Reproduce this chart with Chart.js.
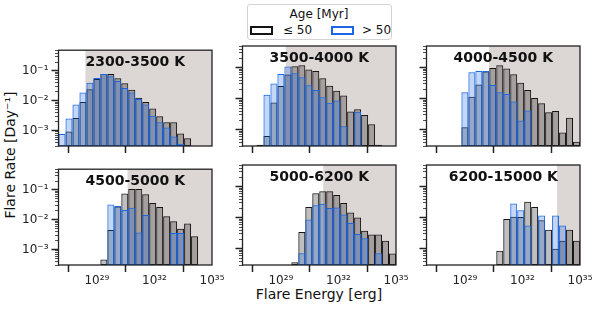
<!DOCTYPE html>
<html>
<head>
<meta charset="utf-8">
<script src="https://cdn.jsdelivr.net/npm/chart.js@4.4.0/dist/chart.umd.min.js"></script>
<style>
  html, body { margin: 0; padding: 0; background: #fff; }
  body { width: 598px; height: 309px; position: relative; overflow: hidden;
         font-family: "DejaVu Sans", sans-serif; color: #111; }
  canvas { position: absolute; }
  .txt { position: absolute; white-space: nowrap; }
  .patch { position: absolute; width: 23px; height: 9px; box-sizing: border-box;
           border: 2.5px solid #111; background: #fff; }
</style>
</head>
<body>
<div id="legendBox" style="position:absolute;left:246.5px;top:4px;width:145px;height:36px;box-sizing:border-box;border:1px solid #d4d4d4;border-radius:3px;background:#fff;"></div>
<div class="txt" id="legTitle" style="left:246.5px;width:145px;top:7px;text-align:center;font-size:12px;line-height:14px;">Age [Myr]</div>
<div class="patch" id="patch0" style="left:250px;top:25.5px;"></div>
<div class="txt" id="leg0" style="left:283px;top:23px;font-size:12px;line-height:14px;"></div>
<div class="patch" id="patch1" style="left:330.5px;top:25.5px;"></div>
<div class="txt" id="leg1" style="left:362px;top:23px;font-size:12px;line-height:14px;"></div>
<div class="txt" style="left:0;width:638px;top:286px;text-align:center;font-size:14px;line-height:16px;">Flare Energy [erg]</div>
<div class="txt" style="left:-90px;width:200px;top:147px;text-align:center;font-size:14px;line-height:16px;transform:rotate(-90deg);">Flare Rate [Day⁻¹]</div>

<canvas id="p0" width="230" height="130" style="left:12px;top:40px"></canvas>
<canvas id="p1" width="230" height="130" style="left:196px;top:40px"></canvas>
<canvas id="p2" width="230" height="130" style="left:380px;top:40px"></canvas>
<canvas id="p3" width="230" height="130" style="left:12px;top:159px"></canvas>
<canvas id="p4" width="230" height="130" style="left:196px;top:159px"></canvas>
<canvas id="p5" width="230" height="130" style="left:380px;top:159px"></canvas>

<script>
// bin centres, log10(E / erg)
const logE = [27.1818, 27.5455, 27.9091, 28.2727, 28.6364, 29.0000, 29.3636, 29.7273,
              30.0909, 30.4545, 30.8182, 31.1818, 31.5455, 31.9091, 32.2727, 32.6364,
              33.0000, 33.3636, 33.7273, 34.0909, 34.4545, 34.8182];

const panelTitles = ['2300-3500 K', '3500-4000 K', '4000-4500 K', '4500-5000 K', '5000-6200 K', '6200-15000 K'];
const shadeFrom = [28.40, 29.26, 30.26, 30.60, 31.21, 33.80];   // log10 E where shading starts
const ageLabels = ['≤ 50', '> 50'];
const xTickExps = [29, 32, 35];
const yTickVals = [1e-3, 1e-2, 1e-1];

// flare rates [1/day], age <= 50 Myr (young) and > 50 Myr (old)
const young2300 = [null, 9.3e-4, 2.6e-3, 9.0e-3, 0.0245, 0.054, 0.079, 0.079, 0.057, 0.039, 0.0235,
                   0.0126, 0.0091, 0.0055, 0.0030, 0.0019, 0.0019, 7.9e-4, 5.5e-4, null, null, null];
const old2300   = [7.6e-4, 2.5e-3, 7.4e-3, 0.019, 0.040, 0.058, 0.079, 0.066, 0.046, 0.027, 0.019,
                   0.0115, 0.0074, 0.0031, 0.0019, 0.00126, 6.3e-4, 3.6e-4, null, null, null, null];

const young3500 = [null, null, 3.3e-4, 6.3e-4, 0.0075, 0.0257, 0.060, 0.112, 0.120, 0.087, 0.078,
                   0.046, 0.026, 0.018, 0.0126, 0.0039, 0.0046, 0.0030, 0.0015, 3.3e-4, null, null];
const old3500   = [null, null, null, 0.0135, 0.031, 0.063, 0.110, 0.066, 0.049, 0.027, 0.019,
                   0.0112, 0.0074, 0.0087, 0.0013, null, 0.0038, null, null, null, null, null];

const young4000 = [null, null, null, null, null, 0.0012, 0.0115, 0.0285, 0.075, 0.097, 0.120,
                   0.095, 0.062, 0.033, 0.019, 0.0105, 0.0072, 0.0037, 0.0040, 8.1e-4, 0.00245, 4.1e-4];
const old4000   = [null, null, null, null, null, 0.0162, 0.071, 0.078, 0.078, 0.0275, 0.0162,
                   0.0141, 0.0081, 0.0020, 0.0042, null, null, null, null, null, null, null];

const young4500 = [null, null, null, null, null, null, 4.6e-4, 0.0045, 0.028, 0.076, 0.107,
                   0.107, 0.0715, 0.0365, 0.0266, 0.0132, 0.0089, 0.0050, 0.0074, 0.0028, null, null];
const old4500   = [null, null, null, null, null, null, null, 0.0324, 0.0288, 0.0214, 0.0251,
                   0.0037, 0.0143, null, null, null, 0.0036, 0.0036, null, null, null, null];

const young5000 = [null, null, null, null, null, null, null, 3.7e-4, 0.0035, 0.022, 0.062,
                   0.071, 0.071, 0.054, 0.030, 0.0148, 0.0102, 0.0038, 0.0029, 0.0029, 0.0018, 7.1e-4];
const old5000   = [null, null, null, null, null, null, null, null, 7.2e-4, 0.0087, 0.0251,
                   0.028, 0.0204, 0.0214, 0.0126, 0.0068, 0.0030, 0.0022, null, 7.2e-4, null, null];

const young6200 = [null, null, null, null, null, null, null, null, null, null, 8.7e-4,
                   0.0091, 0.0107, 0.0105, 0.033, 0.022, 0.0083, 0.0041, 0.0010, 0.0018, 0.0041, 0.0018];
const old6200   = [null, null, null, null, null, null, null, null, null, null, null,
                   null, 0.029, 0.0174, 0.0056, null, 0.0117, null, 0.0117, 0.0056, null, null];

const youngSets = [young2300, young3500, young4000, young4500, young5000, young6200];
const oldSets   = [old2300, old3500, old4000, old4500, old5000, old6200];

const shadeColor = '#dcd6d4';
const youngEdge = '#141414', youngFill = 'rgba(0, 0, 0, 0.25)';
const oldEdge = '#1a66e6', oldFill = 'rgba(26, 100, 215, 0.26)';
const axisColor = '#222';

document.getElementById('leg0').textContent = ageLabels[0];
document.getElementById('leg1').textContent = ageLabels[1];
document.getElementById('patch0').style.borderColor = youngEdge;
document.getElementById('patch1').style.borderColor = oldEdge;

const SUP = {'0':'⁰','1':'¹','2':'²','3':'³','4':'⁴','5':'⁵','6':'⁶','7':'⁷','8':'⁸','9':'⁹','-':'⁻'};
const pow10 = n => '10' + String(n).split('').map(c => SUP[c]).join('');

// minor log ticks (2..9 x 10^n) inside the y range
const yMin = 3e-4, yMax = 0.5;
const minorTicks = [];
for (let e = -4; e <= 0; e++) {
  for (let m = 2; m <= 9; m++) {
    const v = m * Math.pow(10, e);
    if (v >= yMin && v <= yMax) minorTicks.push(v);
  }
}

const panelDeco = {
  id: 'panelDeco',
  beforeDatasetsDraw(chart, args, opts) {
    const {ctx, chartArea: a, scales: {x}} = chart;
    const x0 = x.getPixelForValue(opts.shadeFrom);
    ctx.save();
    ctx.fillStyle = shadeColor;
    ctx.fillRect(x0, a.top, a.right - x0, a.bottom - a.top);
    ctx.restore();
  },
  afterDatasetsDraw(chart, args, opts) {
    const {ctx, chartArea: a} = chart;
    ctx.save();
    ctx.strokeStyle = axisColor;
    ctx.lineWidth = 1.3;
    ctx.strokeRect(a.left, a.top, a.right - a.left, a.bottom - a.top);
    ctx.fillStyle = '#111';
    ctx.font = 'bold 14px "DejaVu Sans"';
    ctx.textAlign = 'center';
    ctx.textBaseline = 'alphabetic';
    ctx.fillText(opts.title, (a.left + a.right) / 2, a.top + 15.7);
    ctx.restore();
  }
};

const barStyle = {
  grouped: false,
  barPercentage: 1,
  categoryPercentage: 1,
  borderWidth: 1,
  borderSkipped: false,
  inflateAmount: 0
};

youngSets.forEach((young, i) => {
  const old = oldSets[i];
  const leftCol = i % 3 === 0;
  const bottomRow = i >= 3;
  const ctx = document.getElementById('p' + i).getContext('2d');
  new Chart(ctx, {
    type: 'bar',
    data: {
      datasets: [Object.assign({
        label: ageLabels[0],
        data: logE.map((e, k) => ({x: e, y: young[k]})),
        backgroundColor: youngFill,
        borderColor: youngEdge,
        xAxisID: 'x',
        order: 1
      }, barStyle), Object.assign({
        label: ageLabels[1],
        data: logE.map((e, k) => ({x: e, y: old[k]})),
        backgroundColor: oldFill,
        borderColor: oldEdge,
        xAxisID: 'x2',     // own index axis, so the two histograms overlap
        order: 0
      }, barStyle)]
    },
    options: {
      responsive: false,
      animation: false,
      devicePixelRatio: 1,
      layout: { padding: {left: 0, top: 6, right: 30, bottom: 0}, autoPadding: false },
      scales: {
        x: {
          type: 'linear',
          min: 27, max: 35,
          offset: false,
          weight: 1,
          afterBuildTicks: s => { s.ticks = xTickExps.map(v => ({value: v})); },
          afterFit: s => { s.height = 24; },
          border: { display: false },
          grid: { drawOnChartArea: false, tickLength: 7, tickWidth: 1.5, tickColor: axisColor },
          ticks: {
            display: bottomRow,
            autoSkip: false,
            maxRotation: 0,
            padding: 2,
            color: '#222',
            font: { family: 'DejaVu Sans', size: 12 },
            callback: v => pow10(v)
          }
        },
        x2: {
          type: 'linear',
          position: 'bottom',
          min: 27, max: 35,
          offset: false,
          weight: 0,
          display: false
        },
        y: {
          type: 'logarithmic',
          min: yMin, max: yMax,
          weight: 1,
          afterBuildTicks: s => { s.ticks = yTickVals.map(v => ({value: v})); },
          afterFit: s => { s.width = 46.5; },
          border: { display: false },
          grid: { drawOnChartArea: false, tickLength: 7, tickWidth: 1.5, tickColor: axisColor },
          ticks: {
            display: leftCol,
            autoSkip: false,
            padding: 3,
            color: '#222',
            font: { family: 'DejaVu Sans', size: 12 },
            callback: v => pow10(Math.round(Math.log10(v)))
          }
        },
        yMinor: {
          type: 'logarithmic',
          position: 'left',
          min: yMin, max: yMax,
          weight: 0,
          afterBuildTicks: s => { s.ticks = minorTicks.map(v => ({value: v})); },
          afterFit: s => { s.width = 0; },
          border: { display: false },
          grid: { drawOnChartArea: false, tickLength: 3.5, tickWidth: 0.8, tickColor: axisColor },
          ticks: { display: false }
        }
      },
      plugins: {
        legend: { display: false },
        tooltip: { enabled: false },
        panelDeco: { title: panelTitles[i], shadeFrom: shadeFrom[i] }
      }
    },
    plugins: [panelDeco]
  });
});
</script>
</body>
</html>
